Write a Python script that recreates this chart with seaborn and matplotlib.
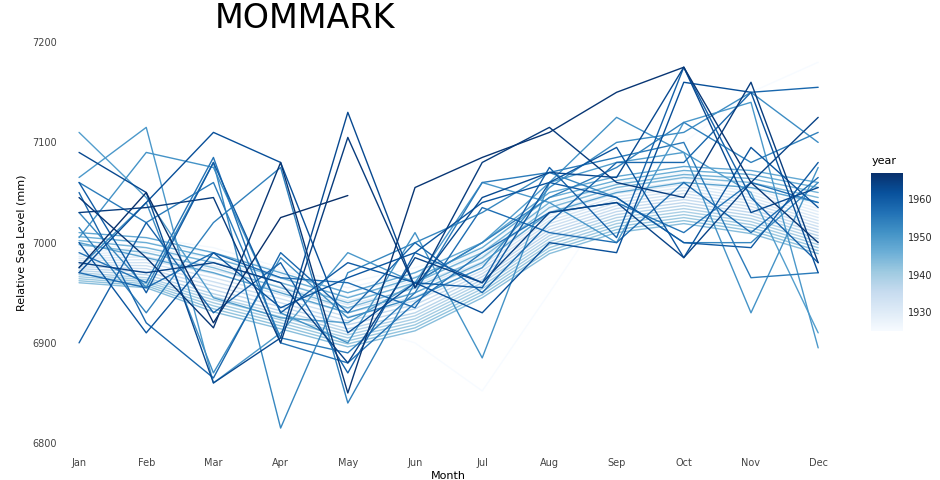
import numpy as np
import pandas as pd
import matplotlib
matplotlib.use("Agg")
import matplotlib.pyplot as plt
import seaborn as sns

months = ["Jan", "Feb", "Mar", "Apr", "May", "Jun", "Jul", "Aug", "Sep", "Oct", "Nov", "Dec"]
nan = np.nan

# smooth early years (light blue bundle)
years_early = list(range(1925, 1949))
levels_early = [
    [6985, 6970, 6960, 6940, 6920, 6900, 6852, 6950, 7050, 7100, 7150, 7180],
    [6995, 7005, 6995, 6975, 6960, 6975, 6995, 7040, 7060, 7070, 7060, 7040],
    [6992, 7000, 6990, 6972, 6955, 6970, 6992, 7037, 7058, 7067, 7057, 7037],
    [6990, 6995, 6985, 6968, 6950, 6966, 6990, 7034, 7055, 7064, 7054, 7034],
    [6988, 6992, 6981, 6964, 6946, 6962, 6987, 7031, 7052, 7061, 7051, 7031],
    [6986, 6989, 6977, 6960, 6942, 6958, 6984, 7028, 7049, 7058, 7048, 7028],
    [6984, 6986, 6973, 6956, 6938, 6954, 6981, 7025, 7046, 7055, 7045, 7025],
    [6982, 6983, 6969, 6952, 6934, 6950, 6978, 7022, 7043, 7052, 7042, 7022],
    [6980, 6980, 6965, 6948, 6930, 6946, 6975, 7019, 7040, 7049, 7039, 7019],
    [6978, 6977, 6961, 6944, 6926, 6942, 6972, 7016, 7037, 7046, 7036, 7016],
    [6976, 6974, 6957, 6940, 6922, 6938, 6969, 7013, 7034, 7043, 7033, 7013],
    [6974, 6971, 6953, 6936, 6918, 6934, 6966, 7010, 7031, 7040, 7030, 7010],
    [6972, 6968, 6949, 6932, 6914, 6930, 6963, 7007, 7028, 7037, 7027, 7007],
    [6970, 6965, 6946, 6929, 6911, 6927, 6960, 7004, 7025, 7034, 7024, 7004],
    [6968, 6963, 6943, 6926, 6908, 6924, 6957, 7001, 7022, 7031, 7021, 7001],
    [6966, 6961, 6940, 6923, 6905, 6921, 6954, 6998, 7019, 7028, 7018, 6998],
    [6964, 6959, 6937, 6920, 6902, 6918, 6951, 6995, 7016, 7025, 7015, 6995],
    [6962, 6957, 6934, 6917, 6899, 6915, 6948, 6992, 7013, 7022, 7012, 6992],
    [6960, 6955, 6931, 6914, 6896, 6912, 6945, 6989, 7010, 7019, 7009, 6989],
    [6998, 6990, 6975, 6955, 6935, 6955, 6985, 7035, 7055, 7065, 7060, 7045],
    [7002, 6995, 6980, 6960, 6940, 6960, 6990, 7040, 7058, 7068, 7064, 7050],
    [7006, 7000, 6985, 6965, 6945, 6965, 6995, 7045, 7062, 7072, 7068, 7055],
    [7010, 7005, 6990, 6970, 6950, 6970, 7000, 7050, 7066, 7076, 7072, 7060],
    [7000, 6985, 6970, 6950, 6930, 6950, 6980, 7030, 7050, 7060, 7055, 7040],
]

# later, noisier years
years_late = list(range(1949, 1968))
levels_late = [
    [7110, 7045, 6945, 6925, 6920, 6960, 7000, 7060, 7080, 7090, 7050, 6910],
    [7065, 7115, 6860, 6910, 6990, 6960, 7060, 7040, 7000, 7120, 7140, 6895],
    [7005, 7090, 7075, 6930, 6900, 7010, 6885, 7060, 7125, 7090, 6930, 7075],
    [6975, 7040, 6870, 6985, 6925, 6945, 6975, 7055, 7100, 7110, 7150, 7100],
    [7030, 6955, 7080, 6815, 6970, 7000, 7030, 7070, 7045, 7000, 7000, 7060],
    [7015, 6930, 7020, 7075, 6840, 6960, 7000, 7045, 7075, 7120, 7080, 7110],
    [7060, 7020, 7060, 6905, 6890, 6950, 7060, 7070, 7085, 7100, 6965, 6970],
    [6990, 6960, 7085, 6900, 6880, 6940, 6990, 7030, 7040, 7010, 7060, 7040],
    [6970, 6955, 6990, 6965, 6960, 6935, 7035, 7010, 7000, 7060, 7010, 7065],
    [7050, 6920, 6865, 6990, 6930, 7000, 6950, 7020, 7080, 7080, 7150, 7155],
    [6900, 7020, 6930, 6980, 6870, 6990, 6960, 7075, 7005, 7175, 7045, 6980],
    [7060, 6950, 7080, 6930, 6980, 6960, 6955, 7060, 7045, 7000, 6995, 7080],
    [7000, 6910, 6990, 6935, 6965, 6990, 7040, 7060, 7095, 6985, 7095, 7035],
    [6970, 7040, 7110, 7080, 6910, 6960, 6930, 7000, 6990, 7160, 7150, 6970],
    [7090, 7050, 6860, 6905, 7130, 6955, 7045, 7070, 7065, 7175, 7030, 7055],
    [6980, 6970, 6980, 6960, 6880, 6985, 6960, 7030, 7040, 6985, 7060, 7125],
    [7030, 7035, 7045, 6900, 7105, 6955, 7080, 7115, 7060, 7045, 7160, 6980],
    [7045, 6985, 6915, 7080, 6850, 7055, 7085, 7110, 7150, 7175, 7060, 7000],
    [6975, 7050, 6920, 7025, 7047, nan, nan, nan, nan, nan, nan, nan],
]

years = years_early + years_late
levels = levels_early + levels_late

rows = []
for y, vals in zip(years, levels):
    for i, v in enumerate(vals):
        rows.append({"year": y, "month": i, "level": v})
df = pd.DataFrame(rows).dropna()

sns.set_style("white")
fig, ax = plt.subplots(figsize=(9.4, 4.8), dpi=100)
fig.subplots_adjust(left=0.0698, right=0.8847, top=0.933, bottom=0.056)

norm = plt.Normalize(1925, 1967)
sns.lineplot(data=df, x="month", y="level", hue="year", units="year", estimator=None,
             palette="Blues", hue_norm=norm, lw=1, legend=False, ax=ax)

ax.set_xticks(range(12))
ax.set_xticklabels(months)
ax.set_xlim(-0.2, 11.2)
ax.set_ylim(6790, 7210)
ax.set_yticks([6800, 6900, 7000, 7100, 7200])
ax.tick_params(axis="both", labelsize=7, colors="#444444", length=3)
ax.tick_params(axis="x", length=0)
ax.set_xlabel("Month", fontsize=8, color="black", labelpad=2)
ax.set_ylabel("Relative Sea Level (mm)", fontsize=8, color="black")
for s in ax.spines.values():
    s.set_visible(False)
fig.text(0.325, 0.962, "MOMMARK", fontsize=24, ha="center", va="center", color="black")

sm = plt.cm.ScalarMappable(cmap="Blues", norm=norm)
cax = fig.add_axes([0.927, 0.31, 0.034, 0.33])
cb = fig.colorbar(sm, cax=cax)
cb.set_ticks([1930, 1940, 1950, 1960])
cb.outline.set_visible(False)
cb.ax.tick_params(labelsize=7, length=0)
cax.set_title("year", fontsize=8, loc="left", color="black")

fig.savefig("out.png", dpi=100)
